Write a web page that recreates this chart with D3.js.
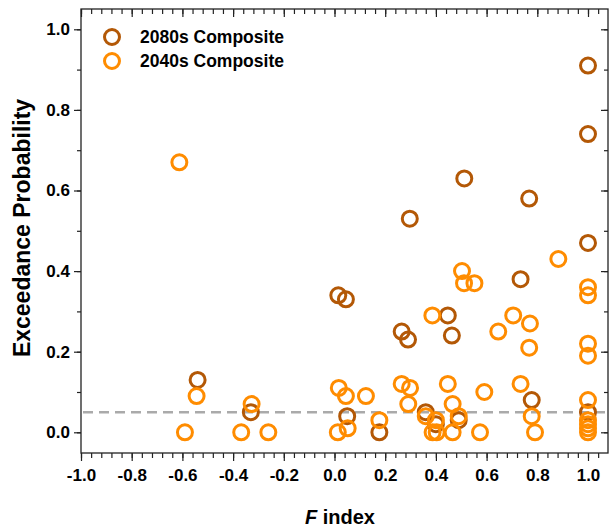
<!DOCTYPE html>
<html>
<head>
<meta charset="utf-8">
<script src="https://cdn.jsdelivr.net/npm/d3@7"></script>
<style>
  body { margin: 0; background: #fff; }
  text { font-family: "Liberation Sans", Arial, sans-serif; font-weight: bold; fill: #000; }
</style>
</head>
<body>
<div id="chart"></div>
<script>
// 2080s Composite
var x2080 = [-0.54, -0.33, 0.015, 0.045, 0.05, 0.177, 0.265, 0.29, 0.297, 0.36, 0.40, 0.447, 0.463, 0.49, 0.512, 0.734, 0.768, 0.778, 1.0, 1.0, 1.0, 1.0]
var y2080 = [0.13, 0.05, 0.34, 0.33, 0.04, 0.0, 0.25, 0.23, 0.53, 0.05, 0.02, 0.29, 0.24, 0.03, 0.63, 0.38, 0.58, 0.08, 0.91, 0.74, 0.47, 0.05]

// 2040s Composite
var x2040 = [-0.612, -0.544, -0.59, -0.327, -0.368, -0.261, 0.017, 0.045, 0.013, 0.052, 0.124, 0.177, 0.265, 0.298, 0.291, 0.36, 0.386, 0.40, 0.387, 0.403, 0.447, 0.466, 0.49, 0.466, 0.503, 0.511, 0.552, 0.591, 0.574, 0.646, 0.705, 0.734, 0.771, 0.768, 0.778, 0.791, 0.883, 1.0, 1.0, 1.0, 1.0, 1.0, 1.0, 1.0, 1.0, 1.0]
var y2040 = [0.67, 0.09, 0.0, 0.07, 0.0, 0.0, 0.11, 0.09, 0.0, 0.01, 0.09, 0.03, 0.12, 0.11, 0.07, 0.04, 0.29, 0.03, 0.0, 0.0, 0.12, 0.07, 0.04, 0.0, 0.40, 0.37, 0.37, 0.10, 0.0, 0.25, 0.29, 0.12, 0.27, 0.21, 0.04, 0.0, 0.43, 0.36, 0.34, 0.22, 0.19, 0.08, 0.03, 0.02, 0.01, 0.0]

var xTicks = [-1.0, -0.8, -0.6, -0.4, -0.2, 0.0, 0.2, 0.4, 0.6, 0.8, 1.0]
var yTicks = [0.0, 0.2, 0.4, 0.6, 0.8, 1.0]
var threshold = 0.05

var width = 610, height = 529
var pLeft = 81, pRight = 608, pTop = 9, pBottom = 453

var svg = d3.select('#chart').append('svg')
  .attr('width', width)
  .attr('height', height)

var x = d3.scaleLinear().domain([-1, 1]).range([pLeft, 588])
var xMax = x.invert(pRight)
x.domain([-1, xMax]).range([pLeft, pRight])
var y = d3.scaleLinear().domain([0, 1]).range([432.3, 29.3])

var fmt = function (d) { return d3.format('.1f')(d).replace('\u2212', '-') }

var xMinor = d3.range(-1, xMax, 0.04)
var yMinor = d3.range(0, 1.05, 0.1)

// minor ticks
svg.append('g').attr('transform', 'translate(0,' + pBottom + ')')
  .call(d3.axisBottom(x).tickValues(xMinor).tickSize(5).tickFormat(''))
svg.append('g').attr('transform', 'translate(0,' + pTop + ')')
  .call(d3.axisBottom(x).tickValues(xMinor).tickSize(5).tickFormat(''))
svg.append('g').attr('transform', 'translate(' + pLeft + ',0)')
  .call(d3.axisLeft(y).tickValues(yMinor).tickSize(4).tickFormat(''))
svg.append('g').attr('transform', 'translate(' + pRight + ',0)')
  .call(d3.axisLeft(y).tickValues(yMinor).tickSize(4).tickFormat(''))

// major ticks
svg.append('g').attr('transform', 'translate(0,' + pBottom + ')')
  .call(d3.axisBottom(x).tickValues(xTicks).tickSize(8).tickPadding(8).tickFormat(fmt))
svg.append('g').attr('transform', 'translate(0,' + pTop + ')')
  .call(d3.axisBottom(x).tickValues(xTicks).tickSize(8).tickFormat(''))
svg.append('g').attr('transform', 'translate(' + pLeft + ',0)')
  .call(d3.axisLeft(y).tickValues(yTicks).tickSize(7).tickPadding(4).tickFormat(fmt))
svg.append('g').attr('transform', 'translate(' + pRight + ',0)')
  .call(d3.axisLeft(y).tickValues(yTicks).tickSize(7).tickFormat(''))

svg.selectAll('.domain').remove()
svg.selectAll('.tick line').attr('stroke', '#222').attr('stroke-width', 1.2)
svg.selectAll('.tick text').style('font-size', '17px').style('font-family', '"Liberation Sans", Arial, sans-serif').style('font-weight', 'bold').attr('fill', '#000')

// frame
svg.append('rect')
  .attr('x', pLeft).attr('y', pTop)
  .attr('width', pRight - pLeft).attr('height', pBottom - pTop)
  .attr('fill', 'none').attr('stroke', '#222').attr('stroke-width', 1.3)

// threshold line
svg.append('line')
  .attr('x1', pLeft + 2).attr('x2', pRight)
  .attr('y1', y(threshold)).attr('y2', y(threshold))
  .attr('stroke', '#aaa').attr('stroke-width', 2.5)
  .attr('stroke-dasharray', '10,6')

var d2080 = x2080.map(function (d, i) { return [d, y2080[i]] })
var d2040 = x2040.map(function (d, i) { return [d, y2040[i]] })

svg.append('g').selectAll('circle').data(d2080).enter().append('circle')
  .attr('cx', function (d) { return x(d[0]) })
  .attr('cy', function (d) { return y(d[1]) })
  .attr('r', 7.5)
  .attr('fill', 'none')
  .attr('stroke', '#B35806')
  .attr('stroke-width', 3)

svg.append('g').selectAll('circle').data(d2040).enter().append('circle')
  .attr('cx', function (d) { return x(d[0]) })
  .attr('cy', function (d) { return y(d[1]) })
  .attr('r', 7.5)
  .attr('fill', 'none')
  .attr('stroke', '#FF8C00')
  .attr('stroke-width', 3)

// legend
var legend = [['2080s Composite', '#B35806'], ['2040s Composite', '#FF8C00']]
legend.forEach(function (l, i) {
  svg.append('circle')
    .attr('cx', 112).attr('cy', 37 + i * 24).attr('r', 7.5)
    .attr('fill', 'none').attr('stroke', l[1]).attr('stroke-width', 3)
  svg.append('text')
    .attr('x', 140).attr('y', 43 + i * 24)
    .style('font-size', '17.5px')
    .text(l[0])
})

// axis titles
var xt = svg.append('text')
  .attr('x', 340).attr('y', 524)
  .attr('text-anchor', 'middle')
  .style('font-size', '20px')
xt.append('tspan').style('font-style', 'italic').text('F')
xt.append('tspan').text(' index')

svg.append('text')
  .attr('transform', 'translate(30,' + ((pTop + pBottom) / 2 - 3) + ') rotate(-90)')
  .attr('text-anchor', 'middle')
  .style('font-size', '23px')
  .text('Exceedance Probability')
</script>
</body>
</html>
